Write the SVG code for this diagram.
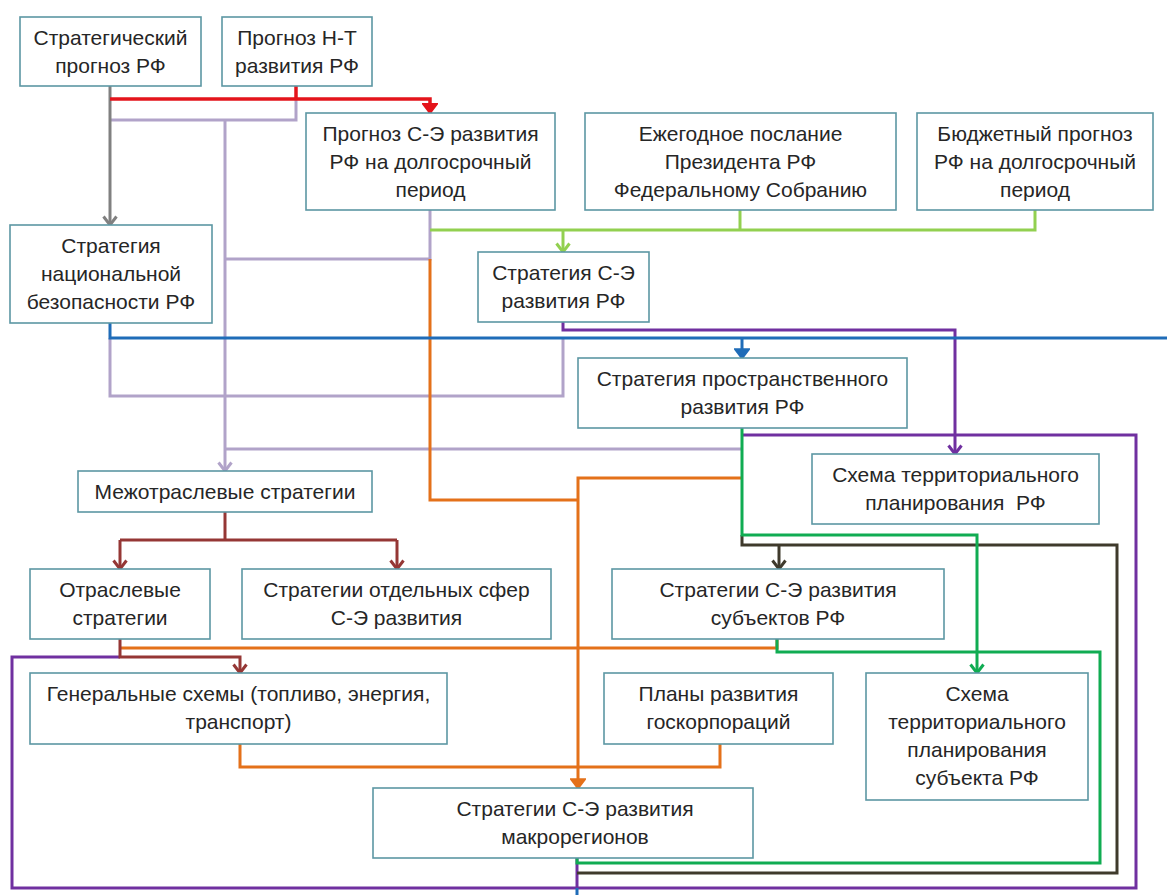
<svg xmlns="http://www.w3.org/2000/svg" width="1167" height="895" viewBox="0 0 1167 895">
<style>
.box{fill:#ffffff;stroke:#5c97a3;stroke-width:1.6}
.t{font-family:"Liberation Sans",Arial,sans-serif;font-size:21px;fill:#262626;text-anchor:middle}
.c{fill:none;stroke-width:3;stroke-linejoin:miter;stroke-linecap:butt}
.red{stroke:#e4141b;stroke-width:3.5}.gray{stroke:#808080}.lav{stroke:#b1a3c9}.lg{stroke:#92d050}.blue{stroke:#1f6cb8}.pur{stroke:#7030a0}.dr{stroke:#953735}.or{stroke:#e4711a}.gr{stroke:#10ac52}.dk{stroke:#3f3a2c}
</style>
<defs>
<marker id="aRed" markerUnits="userSpaceOnUse" viewBox="0 0 12 16" refX="10" refY="8" markerWidth="12" markerHeight="16" orient="auto"><path d="M1,1 L10,8 L1,15 Z" fill="#e4141b" stroke="#e4141b" stroke-width="2"/></marker>
<marker id="aGray" markerUnits="userSpaceOnUse" viewBox="0 0 12 16" refX="10" refY="8" markerWidth="12" markerHeight="16" orient="auto"><path d="M1.5,1.5 L10,8 L1.5,14.5" fill="none" stroke="#808080" stroke-width="3"/></marker>
<marker id="aLav" markerUnits="userSpaceOnUse" viewBox="0 0 12 16" refX="10" refY="8" markerWidth="12" markerHeight="16" orient="auto"><path d="M1.5,1.5 L10,8 L1.5,14.5" fill="none" stroke="#b1a3c9" stroke-width="3"/></marker>
<marker id="aLg" markerUnits="userSpaceOnUse" viewBox="0 0 12 16" refX="10" refY="8" markerWidth="12" markerHeight="16" orient="auto"><path d="M1.5,1.5 L10,8 L1.5,14.5" fill="none" stroke="#92d050" stroke-width="3"/></marker>
<marker id="aBlue" markerUnits="userSpaceOnUse" viewBox="0 0 12 16" refX="10" refY="8" markerWidth="12" markerHeight="16" orient="auto"><path d="M1.5,1.5 L10,8 L1.5,14.5 Z" fill="#1f6cb8" stroke="#1f6cb8" stroke-width="2.5"/></marker>
<marker id="aPur" markerUnits="userSpaceOnUse" viewBox="0 0 12 16" refX="10" refY="8" markerWidth="12" markerHeight="16" orient="auto"><path d="M1.5,1.5 L10,8 L1.5,14.5" fill="none" stroke="#7030a0" stroke-width="3"/></marker>
<marker id="aDr" markerUnits="userSpaceOnUse" viewBox="0 0 12 16" refX="10" refY="8" markerWidth="12" markerHeight="16" orient="auto"><path d="M1.5,1.5 L10,8 L1.5,14.5" fill="none" stroke="#953735" stroke-width="3"/></marker>
<marker id="aOr" markerUnits="userSpaceOnUse" viewBox="0 0 12 16" refX="10" refY="8" markerWidth="12" markerHeight="16" orient="auto"><path d="M1.5,1.5 L10,8 L1.5,14.5 Z" fill="#e4711a" stroke="#e4711a" stroke-width="2.5"/></marker>
<marker id="aGr" markerUnits="userSpaceOnUse" viewBox="0 0 12 16" refX="10" refY="8" markerWidth="12" markerHeight="16" orient="auto"><path d="M1.5,1.5 L10,8 L1.5,14.5" fill="none" stroke="#10ac52" stroke-width="3"/></marker>
<marker id="aDk" markerUnits="userSpaceOnUse" viewBox="0 0 12 16" refX="10" refY="8" markerWidth="12" markerHeight="16" orient="auto"><path d="M1.5,1.5 L10,8 L1.5,14.5" fill="none" stroke="#3f3a2c" stroke-width="3"/></marker>
</defs>
<rect width="1167" height="895" fill="#ffffff"/>
<g id="connectors">
<path class="c lav" d="M296,99 V120 H110"/>
<path class="c lav" d="M225,120 V471" marker-end="url(#aLav)"/>
<path class="c lav" d="M430,210 V259 H225"/>
<path class="c lav" d="M563,338 V396 H110 V338"/>
<path class="c lav" d="M742,449 H225"/>
<path class="c gray" d="M110,86 V225" marker-end="url(#aGray)"/>
<path class="c red" d="M296,86 V99"/>
<path class="c red" d="M110,99 H430 V113" marker-end="url(#aRed)"/>
<path class="c lg" d="M740,210 V230"/>
<path class="c lg" d="M1035,210 V230 H430"/>
<path class="c lg" d="M563,230 V252" marker-end="url(#aLg)"/>
<path class="c or" d="M430,259 V500 H578"/>
<path class="c or" d="M742,478 H578 V788" marker-end="url(#aOr)"/>
<path class="c or" d="M777,639 V648 H120"/>
<path class="c or" d="M240,744 V767 H720 V744"/>
<path class="c pur" d="M563,322 V330 H955 V454" marker-end="url(#aPur)"/>
<path class="c pur" d="M742,435 H1136 V888 H12 V657 H120"/>
<path class="c pur" d="M577,858 V888"/>
<path class="c blue" d="M110,323 V338 H1167"/>
<path class="c blue" d="M742,338 V358" marker-end="url(#aBlue)"/>
<path class="c blue" d="M577,888 V895"/>
<path class="c dr" d="M225,512 V540"/>
<path class="c dr" d="M120,540 H397"/>
<path class="c dr" d="M120,540 V569" marker-end="url(#aDr)"/>
<path class="c dr" d="M397,540 V569" marker-end="url(#aDr)"/>
<path class="c dr" d="M120,639 V657 H240 V673" marker-end="url(#aDr)"/>
<path class="c dk" d="M742,535 V545 H1117 V873 H577"/>
<path class="c dk" d="M779,545 V569" marker-end="url(#aDk)"/>
<path class="c gr" d="M742,428 V535 H977 V673" marker-end="url(#aGr)"/>
<path class="c gr" d="M777,639 V652 H1100 V863 H577 V858"/>
</g>
<g id="n1"><rect class="box" x="20" y="17" width="181" height="69"/><text class="t" x="110.5" y="45">Стратегический</text><text class="t" x="110.5" y="73">прогноз РФ</text></g>
<g id="n2"><rect class="box" x="222" y="17" width="150" height="69"/><text class="t" x="297" y="45">Прогноз Н-Т</text><text class="t" x="297" y="73">развития РФ</text></g>
<g id="n3"><rect class="box" x="306" y="113" width="249" height="97"/><text class="t" x="430.5" y="141">Прогноз С-Э развития</text><text class="t" x="430.5" y="169">РФ на долгосрочный</text><text class="t" x="430.5" y="197">период</text></g>
<g id="n4"><rect class="box" x="585" y="113" width="311" height="97"/><text class="t" x="740.5" y="141">Ежегодное послание</text><text class="t" x="740.5" y="169">Президента РФ</text><text class="t" x="740.5" y="197">Федеральному Собранию</text></g>
<g id="n5"><rect class="box" x="917" y="113" width="236" height="97"/><text class="t" x="1035" y="141">Бюджетный прогноз</text><text class="t" x="1035" y="169">РФ на долгосрочный</text><text class="t" x="1035" y="197">период</text></g>
<g id="n6"><rect class="box" x="10" y="225" width="202" height="98"/><text class="t" x="111" y="253">Стратегия</text><text class="t" x="111" y="281">национальной</text><text class="t" x="111" y="309">безопасности РФ</text></g>
<g id="n7"><rect class="box" x="478" y="252" width="171" height="70"/><text class="t" x="563.5" y="280">Стратегия С-Э</text><text class="t" x="563.5" y="308">развития РФ</text></g>
<g id="n8"><rect class="box" x="578" y="358" width="329" height="70"/><text class="t" x="742.5" y="386">Стратегия пространственного</text><text class="t" x="742.5" y="414">развития РФ</text></g>
<g id="n9"><rect class="box" x="812" y="454" width="287" height="70"/><text class="t" x="955.5" y="482">Схема территориального</text><text class="t" x="955.5" y="510" xml:space="preserve">планирования  РФ</text></g>
<g id="n10"><rect class="box" x="78" y="471" width="294" height="41"/><text class="t" x="225" y="498.5">Межотраслевые стратегии</text></g>
<g id="n11"><rect class="box" x="30" y="569" width="180" height="70"/><text class="t" x="120" y="597">Отраслевые</text><text class="t" x="120" y="625">стратегии</text></g>
<g id="n12"><rect class="box" x="242" y="569" width="309" height="70"/><text class="t" x="396.5" y="597">Стратегии отдельных сфер</text><text class="t" x="396.5" y="625">С-Э развития</text></g>
<g id="n13"><rect class="box" x="612" y="569" width="332" height="70"/><text class="t" x="778" y="597">Стратегии С-Э развития</text><text class="t" x="778" y="625">субъектов РФ</text></g>
<g id="n14"><rect class="box" x="30" y="673" width="417" height="71"/><text class="t" x="238.5" y="701">Генеральные схемы (топливо, энергия,</text><text class="t" x="238.5" y="729">транспорт)</text></g>
<g id="n15"><rect class="box" x="604" y="673" width="229" height="71"/><text class="t" x="718.5" y="701">Планы развития</text><text class="t" x="718.5" y="729">госкорпораций</text></g>
<g id="n16"><rect class="box" x="866" y="673" width="222" height="127"/><text class="t" x="977" y="701">Схема</text><text class="t" x="977" y="729">территориального</text><text class="t" x="977" y="757">планирования</text><text class="t" x="977" y="785">субъекта РФ</text></g>
<g id="n17"><rect class="box" x="373" y="788" width="380" height="70"/><text class="t" x="575" y="816">Стратегии С-Э развития</text><text class="t" x="575" y="844">макрорегионов</text></g>
</svg>
